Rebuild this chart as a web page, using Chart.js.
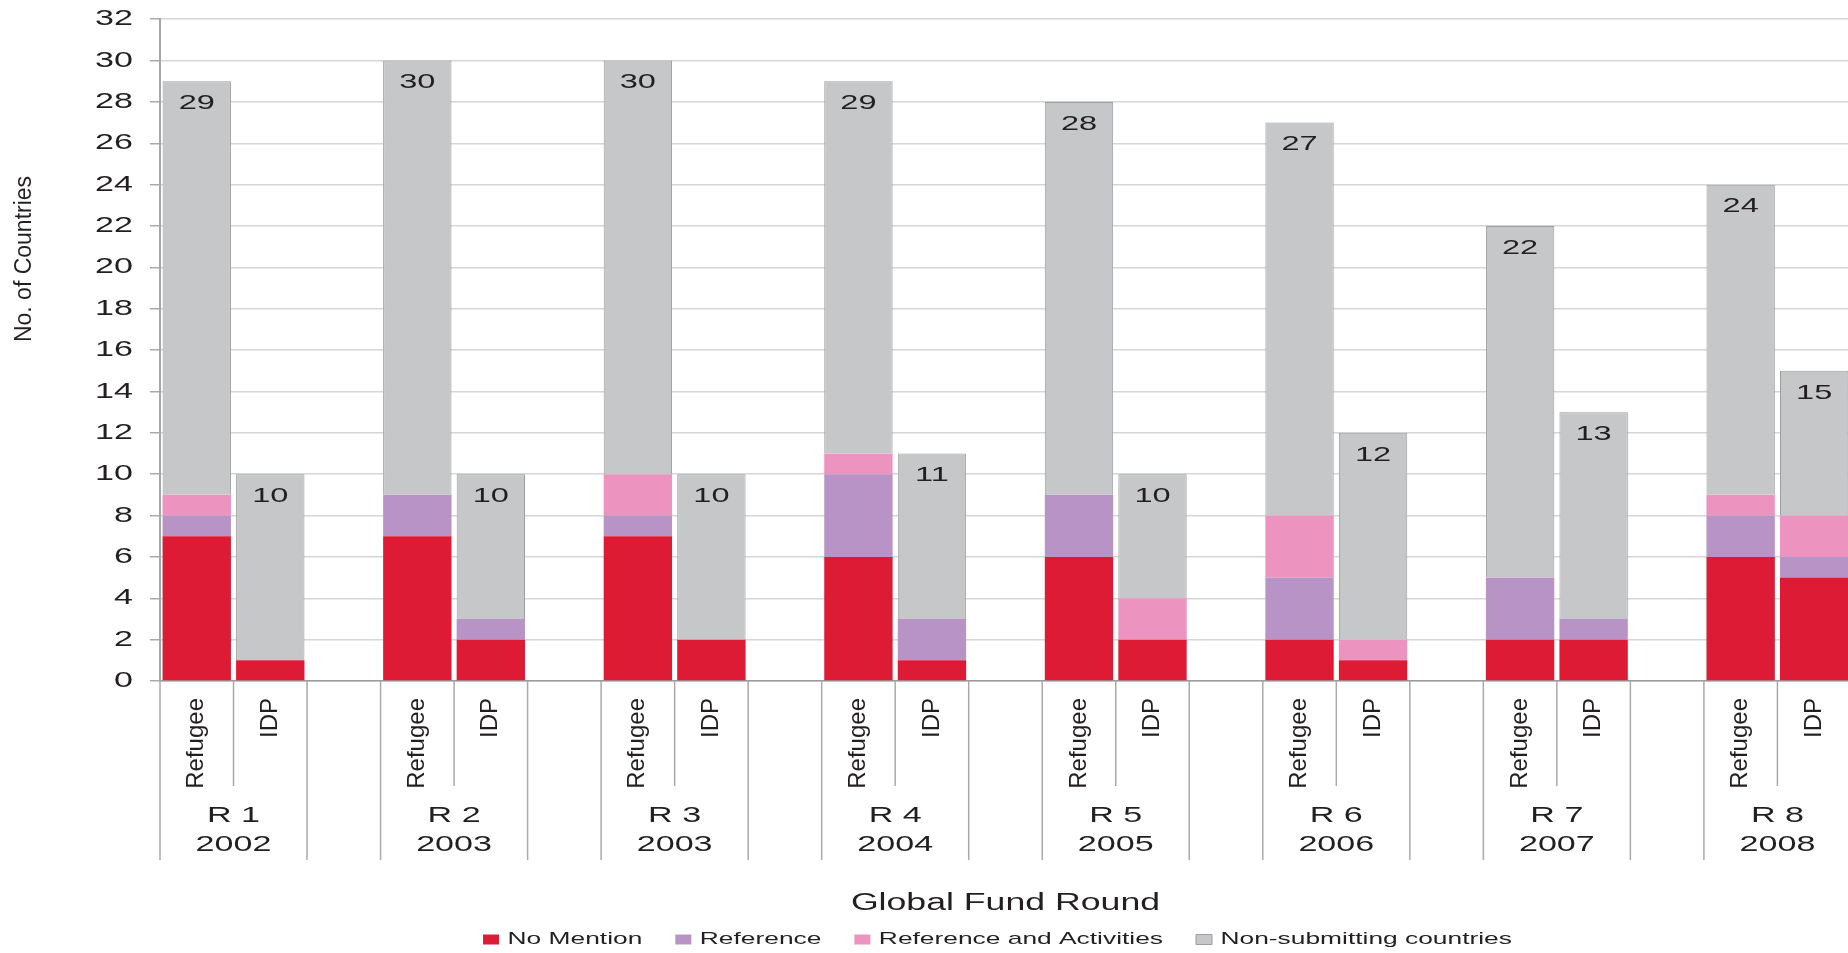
<!DOCTYPE html>
<html>
<head>
<meta charset="utf-8">
<script src="https://cdn.jsdelivr.net/npm/chart.js@4.4.0/dist/chart.umd.min.js"></script>
<style>
html,body{margin:0;padding:0;background:#fff;overflow:hidden;}
#wrap{width:1852px;height:953px;position:relative;}
</style>
</head>
<body>
<div id="wrap"><canvas id="c"></canvas></div>
<script>
// ---------------- data ----------------
const rounds = ['R 1','R 2','R 3','R 4','R 5','R 6','R 7','R 8'];
const years  = ['2002','2003','2003','2004','2005','2006','2007','2008'];
const groups = ['Refugee','IDP'];
// values per round: [Refugee, IDP, Refugee, IDP, ...]
const noMention     = [7,1, 7,2, 7,2, 6,1, 6,2, 2,1, 2,2, 6,5];
const reference     = [1,0, 2,1, 1,0, 4,2, 3,0, 3,0, 3,1, 2,1];
const refActivities = [1,0, 0,0, 2,0, 1,0, 0,2, 3,1, 0,0, 1,2];
const nonSubmitting = [20,9, 21,7, 20,8, 18,8, 19,6, 19,10, 17,10, 15,7];
const seriesNames = ['No Mention','Reference','Reference and Activities','Non-submitting countries'];
const yMin = 0, yMax = 32, yStep = 2;

// ---------------- horizontal text stretch (reference text is wide) ----------------
const SX = 1.55;
(function(){
  const P = CanvasRenderingContext2D.prototype;
  const fT = P.fillText, mT = P.measureText;
  P.fillText = function(text, x, y, maxWidth){
    const m = this.getTransform();
    if (Math.abs(m.b) < 1e-6 && Math.abs(m.c) < 1e-6) {
      this.save(); this.translate(x, y); this.scale(SX, 1); fT.call(this, text, 0, 0); this.restore();
    } else if (maxWidth === undefined) {
      fT.call(this, text, x, y);
    } else {
      fT.call(this, text, x, y, maxWidth);
    }
  };
  P.measureText = function(text){
    const m = mT.call(this, text);
    return {
      width: m.width * SX,
      actualBoundingBoxAscent: m.actualBoundingBoxAscent,
      actualBoundingBoxDescent: m.actualBoundingBoxDescent,
      actualBoundingBoxLeft: m.actualBoundingBoxLeft * SX,
      actualBoundingBoxRight: m.actualBoundingBoxRight * SX,
      fontBoundingBoxAscent: m.fontBoundingBoxAscent,
      fontBoundingBoxDescent: m.fontBoundingBoxDescent
    };
  };
})();

// ---------------- build slots (Refugee, IDP, blank) ----------------
const slotLabels = [];
const slotIndex = [];   // index into value arrays or -1
rounds.forEach((r, k) => {
  groups.forEach((g, j) => { slotLabels.push(g); slotIndex.push(2*k + j); });
  if (k < rounds.length - 1) { slotLabels.push(''); slotIndex.push(-1); }
});
const expand = arr => slotIndex.map(i => i < 0 ? null : arr[i]);

const FONT = '"Liberation Sans", Arial, Helvetica, sans-serif';
const TXT = '#231f20';
const colors = ['#dd1b34', '#b894c6', '#ec93c0', '#c6c7c9'];

const dataLabels = {
  id: 'dataLabels',
  afterDatasetsDraw(chart) {
    const ctx = chart.ctx;
    const meta = chart.getDatasetMeta(3);
    ctx.save();
    ctx.fillStyle = TXT;
    ctx.font = '21px ' + FONT;
    ctx.textAlign = 'center';
    ctx.textBaseline = 'middle';
    slotIndex.forEach((vi, s) => {
      if (vi < 0) return;
      const total = noMention[vi] + reference[vi] + refActivities[vi] + nonSubmitting[vi];
      const el = meta.data[s];
      ctx.fillText(String(total), el.x, el.y + 22);
    });
    ctx.restore();
  }
};

const axisDecor = {
  id: 'axisDecor',
  afterLayout(chart) {
    const lg = chart.legend;
    if (lg) { lg.left += 72; lg.right += 72; lg.top += 5; lg.bottom += 5; }
  },
  afterDraw(chart) {
    const ctx = chart.ctx;
    const xs = chart.scales.x;
    const base = chart.chartArea.bottom;
    const half = (xs.getPixelForValue(1) - xs.getPixelForValue(0)) / 2;
    ctx.save();
    ctx.strokeStyle = '#a9a9a9';
    ctx.lineWidth = 1.5;
    slotLabels.forEach((lab, i) => {
      const bx = xs.getPixelForValue(i) - half;
      const len = lab === 'IDP' ? 105 : 179;
      ctx.beginPath(); ctx.moveTo(bx, base); ctx.lineTo(bx, base + len); ctx.stroke();
    });
    const lastX = xs.getPixelForValue(slotLabels.length - 1) + half;
    ctx.beginPath(); ctx.moveTo(lastX, base); ctx.lineTo(lastX, base + 179); ctx.stroke();

    ctx.fillStyle = TXT;
    ctx.font = '22px ' + FONT;
    ctx.textAlign = 'center';
    ctx.textBaseline = 'middle';
    rounds.forEach((r, k) => {
      const cx = (xs.getPixelForValue(3*k) + xs.getPixelForValue(3*k + 1)) / 2;
      ctx.fillText(r, cx, base + 135);
      ctx.fillText(years[k], cx, base + 164);
    });

    // y-axis title
    ctx.save();
    ctx.translate(25, 259);
    ctx.rotate(-Math.PI / 2);
    ctx.font = '23px ' + FONT;
    ctx.fillText('No. of Countries', 0, 0);
    ctx.restore();
    ctx.restore();
  }
};

const datasets = [noMention, reference, refActivities, nonSubmitting].map((arr, i) => ({
  label: seriesNames[i],
  data: expand(arr),
  backgroundColor: colors[i],
  borderColor: i === 3 ? '#9d9d9d' : colors[i],
  borderWidth: i === 3 ? 1 : 0,
  borderSkipped: 'bottom',
  categoryPercentage: 1.0,
  barPercentage: 0.93
}));

new Chart(document.getElementById('c'), {
  type: 'bar',
  data: { labels: slotLabels, datasets },
  plugins: [dataLabels, axisDecor],
  options: {
    responsive: true,
    maintainAspectRatio: false,
    animation: false,
    devicePixelRatio: 1,
    layout: { padding: { top: 2, left: 0, right: 1, bottom: 0 } },
    plugins: {
      tooltip: { enabled: false },
      title: { display: false },
      legend: {
        display: true,
        position: 'bottom',
        labels: {
          boxWidth: 16, boxHeight: 10, padding: 33, color: TXT,
          font: { family: FONT, size: 17 }
        }
      }
    },
    scales: {
      x: {
        stacked: true,
        offset: true,
        grid: { display: false },
        border: { display: true, color: '#9c9c9c', width: 1.5 },
        ticks: {
          autoSkip: false, minRotation: 90, maxRotation: 90, padding: 9,
          color: TXT, font: { family: FONT, size: 24 }
        },
        title: {
          display: true, text: 'Global Fund Round', color: TXT,
          font: { family: FONT, size: 23 }, padding: { top: 0, bottom: -24 }
        },
        afterFit(s) { s.height = 212; }
      },
      y: {
        stacked: true,
        min: yMin, max: yMax,
        ticks: { stepSize: yStep, padding: 17, color: TXT, font: { family: FONT, size: 22, lineHeight: 0.2 } },
        grid: { color: '#d6d6d6', lineWidth: 1.5, drawTicks: true, tickLength: 10, tickColor: '#aaaaaa' },
        border: { display: true, color: '#a6a6a6', width: 2 },
        afterFit(s) { s.width = 160; }
      }
    }
  }
});
</script>
</body>
</html>
